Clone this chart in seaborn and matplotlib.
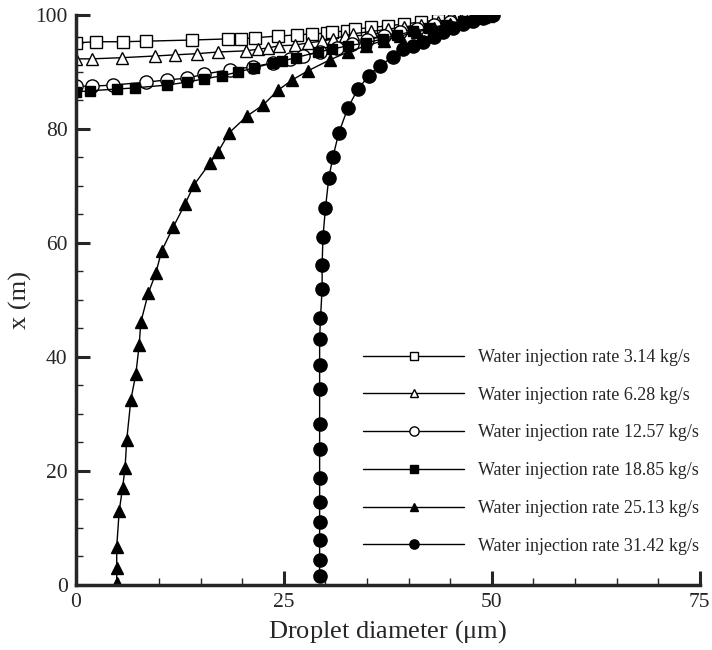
import numpy as np
import matplotlib
matplotlib.use("Agg")
import matplotlib.pyplot as plt
import seaborn as sns
from matplotlib.ticker import MultipleLocator

# Datos: diámetro de gota (um) vs posición x (m)
d_314 = [0, 2.4, 5.6, 8.4, 13.9, 18.3, 19.8, 21.5, 24.3, 26.6, 28.4, 30.2, 30.8, 32.6, 33.5,
         35.5, 37.5, 39.5, 41.5, 43.5, 45.5, 47.5, 49.5]
x_314 = [95.1, 95.3, 95.3, 95.4, 95.6, 95.8, 95.8, 96.0, 96.3, 96.5, 96.7, 96.8, 97.0, 97.2, 97.5,
         97.8, 98.1, 98.4, 98.8, 99.1, 99.4, 99.7, 100]

d_628 = [0, 1.9, 5.5, 9.5, 11.9, 14.5, 17.1, 20.4, 21.9, 23.1, 24.4, 26.3, 27.9, 29.6, 30.9, 32.3, 33.3,
         35.5, 37.5, 39.5, 41.5, 43.5, 45.5, 47.5, 49.5]
x_628 = [92.3, 92.3, 92.5, 92.8, 93.0, 93.2, 93.5, 93.7, 94.0, 94.2, 94.6, 94.7, 95.1, 95.4, 95.8, 96.3, 96.7,
         97.1, 97.5, 97.9, 98.3, 98.7, 99.1, 99.5, 99.9]

d_1257 = [0, 1.9, 4.4, 8.4, 10.9, 13.3, 15.4, 18.5, 21.3, 23.7, 25.7, 27.3, 29.3, 31.4, 33.2,
          35, 37, 39, 41, 43, 45, 47, 49]
x_1257 = [87.5, 87.5, 87.7, 88.2, 88.6, 88.9, 89.6, 90.4, 90.9, 91.6, 92.3, 92.8, 93.5, 94.2, 94.9,
          95.6, 96.3, 97.0, 97.6, 98.2, 98.8, 99.3, 99.8]

d_1885 = [0, 1.7, 4.9, 7.1, 10.9, 13.3, 15.4, 17.5, 19.5, 21.4, 23.7, 24.8, 26.4, 29.1, 30.8, 32.7,
          34.9, 36.9, 38.6, 40.5, 42.5, 44.5, 46.5, 48.5, 50]
x_1885 = [86.5, 86.7, 87.0, 87.2, 87.7, 88.2, 88.8, 89.3, 90.0, 90.7, 91.6, 91.9, 92.5, 93.5, 94.0, 94.6,
          95.1, 95.8, 96.5, 97.1, 97.7, 98.3, 98.9, 99.5, 100]

d_2513 = [4.9, 4.9, 4.9, 5.2, 5.6, 5.9, 6.1, 6.6, 7.2, 7.6, 7.8, 8.7, 9.6, 10.3, 11.7, 13.1, 14.2,
          16.1, 17.1, 18.4, 20.6, 22.5, 24.3, 26.0, 27.9, 30.5, 32.7, 34.9, 37, 39, 41, 43, 45, 47, 49]
x_2513 = [0.35, 3.0, 6.7, 13.0, 17.0, 20.5, 25.4, 32.5, 37.0, 42.1, 46.1, 51.2, 54.7, 58.6, 62.8, 66.8, 70.2,
          74.0, 76.0, 79.3, 82.3, 84.2, 86.8, 88.6, 90.2, 92.1, 93.5, 94.6, 95.5, 96.3, 97.0, 97.7, 98.4, 99.0, 99.6]

d_3142 = [29.3, 29.3, 29.3, 29.3, 29.3, 29.3, 29.3, 29.3, 29.3, 29.3, 29.3, 29.4, 29.6, 29.6, 29.7,
          30.0, 30.4, 30.9, 31.6, 32.7, 33.9, 35.2, 36.5, 38.1, 39.3, 40.5, 41.7, 43.1, 44.1, 45.3,
          46.5, 47.7, 48.9, 50.1]
x_3142 = [1.6, 4.4, 7.9, 11.1, 14.6, 18.8, 23.9, 28.2, 34.4, 38.6, 43.2, 46.8, 51.9, 56.1, 61.1,
          66.1, 71.4, 75.1, 79.3, 83.7, 87.0, 89.3, 91.1, 92.6, 94.0, 94.6, 95.3, 96.1, 97.0, 97.7,
          98.4, 98.9, 99.5, 100]

rates = ["3.14", "6.28", "12.57", "18.85", "25.13", "31.42"]
series = [(d_314, x_314), (d_628, x_628), (d_1257, x_1257),
          (d_1885, x_1885), (d_2513, x_2513), (d_3142, x_3142)]
# marcador, relleno, tamaño
estilos = [("s", "white", 8.5), ("^", "white", 8.5), ("o", "white", 9.5),
           ("s", "black", 7.5), ("^", "black", 8), ("o", "black", 9.5)]

sns.set_style("ticks")
plt.rcParams["font.family"] = ["Liberation Serif", "DejaVu Serif"]
plt.rcParams["mathtext.fontset"] = "stix"

fig = plt.figure(figsize=(7.12, 6.5), dpi=100)
ax = fig.add_axes([0.1067, 0.1, 0.876, 0.877])

for (d, x), rate, (m, fc, ms) in zip(series, rates, estilos):
    sns.lineplot(x=d, y=x, sort=False, estimator=None, ax=ax, color="black", lw=1,
                 marker=m, markerfacecolor=fc, markeredgecolor="black", markersize=ms,
                 markeredgewidth=1, label=f"Water injection rate {rate} kg/s")

ax.set_xlim(0, 75)
ax.set_ylim(0, 100)
ax.xaxis.set_major_locator(MultipleLocator(25))
ax.xaxis.set_minor_locator(MultipleLocator(5))
ax.yaxis.set_major_locator(MultipleLocator(20))
ax.yaxis.set_minor_locator(MultipleLocator(5))
ax.tick_params(which="major", direction="in", length=10, width=2.2, labelsize=15.5, pad=6)
ax.tick_params(which="minor", direction="in", length=5, width=1)
for s in ["top", "right"]:
    ax.spines[s].set_visible(False)
for s in ["left", "bottom"]:
    ax.spines[s].set_linewidth(2.5)

ax.set_xlabel("Droplet diameter ($\\mathregular{\\mu}$m)", fontsize=19, labelpad=4)
ax.set_ylabel("x (m)", fontsize=19, labelpad=2)

ax.legend(loc="center left", bbox_to_anchor=(0.51, 0.305), bbox_transform=fig.transFigure,
          frameon=False, fontsize=13, handlelength=5.6, handletextpad=0.75,
          labelspacing=1.15, borderpad=0, borderaxespad=0, numpoints=1, markerscale=0.7)

fig.savefig("out.png", dpi=100)
